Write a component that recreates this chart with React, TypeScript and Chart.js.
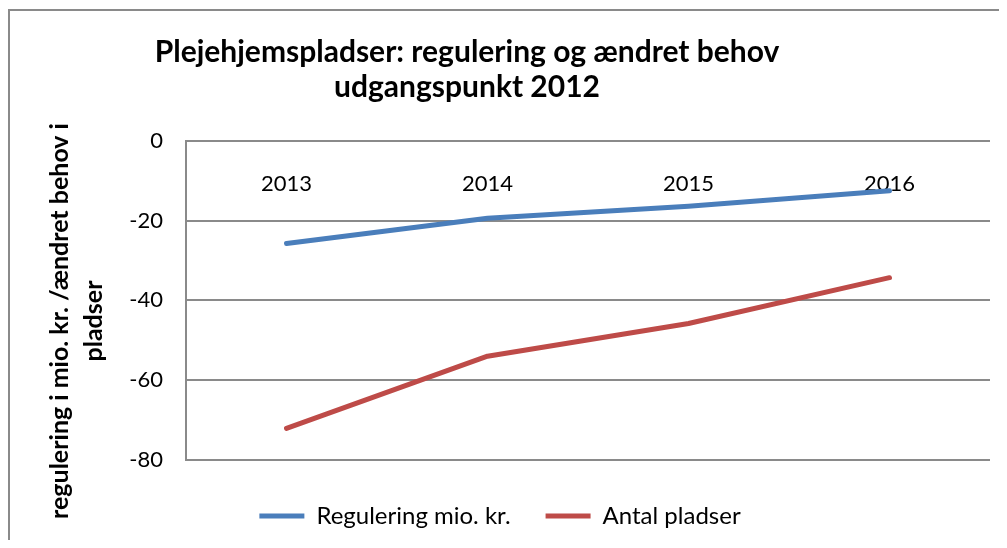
import React, { useEffect, useRef } from "react";
import { Chart, registerables } from "chart.js";

Chart.register(...registerables);

const categories = ["2013", "2014", "2015", "2016"];
const reguleringValues = [-25.7, -19.4, -16.4, -12.5];
const pladserValues = [-72.1, -54.0, -45.8, -34.3];
const yTicks = [0, -20, -40, -60, -80];
const seriesNames = ["Regulering mio. kr.", "Antal pladser"];
const titleLines = ["Plejehjemspladser: regulering og ændret behov", "udgangspunkt 2012"];
const yTitleLines = ["regulering i mio. kr. /ændret behov i", "pladser"];

const FONT = "Lato, 'Open Sans', sans-serif";
const BLUE = "#4A7EBB";
const RED = "#BE4B48";
const GRID = "#8a8a8a";

const textPlugin = {
  id: "customTexts",
  afterDraw(chart: any) {
    const ctx = chart.ctx as CanvasRenderingContext2D;
    ctx.save();
    ctx.fillStyle = "#000";
    ctx.textAlign = "center";
    ctx.textBaseline = "alphabetic";
    ctx.font = `bold 30px ${FONT}`;
    ctx.fillText(titleLines[0], 457, 51);
    ctx.fillText(titleLines[1], 457, 86);
    ctx.font = `bold 25px ${FONT}`;
    ctx.translate(0, 310);
    ctx.rotate(-Math.PI / 2);
    ctx.textBaseline = "middle";
    ctx.fillText(yTitleLines[0], 0, 50);
    ctx.fillText(yTitleLines[1], 0, 84);
    ctx.restore();
  },
};

export default function App() {
  const ref = useRef<HTMLCanvasElement | null>(null);
  useEffect(() => {
    document.documentElement.style.overflow = "hidden";
    document.body.style.overflow = "hidden";
    Chart.defaults.color = "#000";
    const chart = new Chart(ref.current as HTMLCanvasElement, {
      type: "line",
      data: {
        labels: categories,
        datasets: [
          {
            label: seriesNames[0],
            data: reguleringValues,
            borderColor: BLUE,
            backgroundColor: BLUE,
            borderWidth: 5,
            borderCapStyle: "round",
            borderJoinStyle: "round",
            pointRadius: 0,
            fill: false,
            tension: 0,
          },
          {
            label: seriesNames[1],
            data: pladserValues,
            borderColor: RED,
            backgroundColor: RED,
            borderWidth: 5,
            borderCapStyle: "round",
            borderJoinStyle: "round",
            pointRadius: 0,
            fill: false,
            tension: 0,
          },
        ],
      },
      options: {
        responsive: false,
        animation: false,
        layout: { padding: { top: 130, right: 17, left: 0, bottom: 2 } },
        scales: {
          x: {
            type: "category",
            position: { y: 0 } as any,
            offset: true,
            grid: { display: false, drawTicks: false },
            border: { display: false },
            ticks: { padding: 30, font: { family: FONT, size: 22 }, color: "#000", maxRotation: 0 },
          },
          y: {
            min: -80,
            max: 0,
            afterBuildTicks: (s: any) => {
              s.ticks = yTicks.map((v) => ({ value: v }));
            },
            afterFit: (s: any) => {
              s.width = 176;
            },
            grid: { color: GRID, lineWidth: 2, drawTicks: false },
            border: { display: true, color: GRID, width: 2 },
            ticks: { padding: 23, font: { family: FONT, size: 22 }, color: "#000" },
          },
        },
        plugins: {
          title: { display: false },
          tooltip: { enabled: false },
          legend: {
            display: true,
            position: "bottom",
            title: { display: true, text: "", padding: { top: 8, bottom: 0 }, font: { size: 1 } },
            labels: {
              boxWidth: 45,
              boxHeight: 5,
              padding: 35,
              font: { family: FONT, size: 24 },
              color: "#000",
              useBorderRadius: true,
              borderRadius: 2.5,
              generateLabels: (c: any) =>
                c.data.datasets.map((ds: any, i: number) => ({
                  text: ds.label,
                  fillStyle: ds.borderColor,
                  strokeStyle: ds.borderColor,
                  lineWidth: 0,
                  hidden: false,
                  datasetIndex: i,
                })),
            },
          },
        },
      } as any,
      plugins: [textPlugin],
    });
    return () => chart.destroy();
  }, []);
  return (
    <div
      style={{
        marginTop: 1,
        borderTop: `2px solid ${GRID}`,
        borderLeft: `2px solid ${GRID}`,
        width: 999,
        height: 531,
        boxSizing: "border-box",
        overflow: "hidden",
      }}
    >
      <canvas ref={ref} width={997} height={529} style={{ display: "block" }} />
    </div>
  );
}
